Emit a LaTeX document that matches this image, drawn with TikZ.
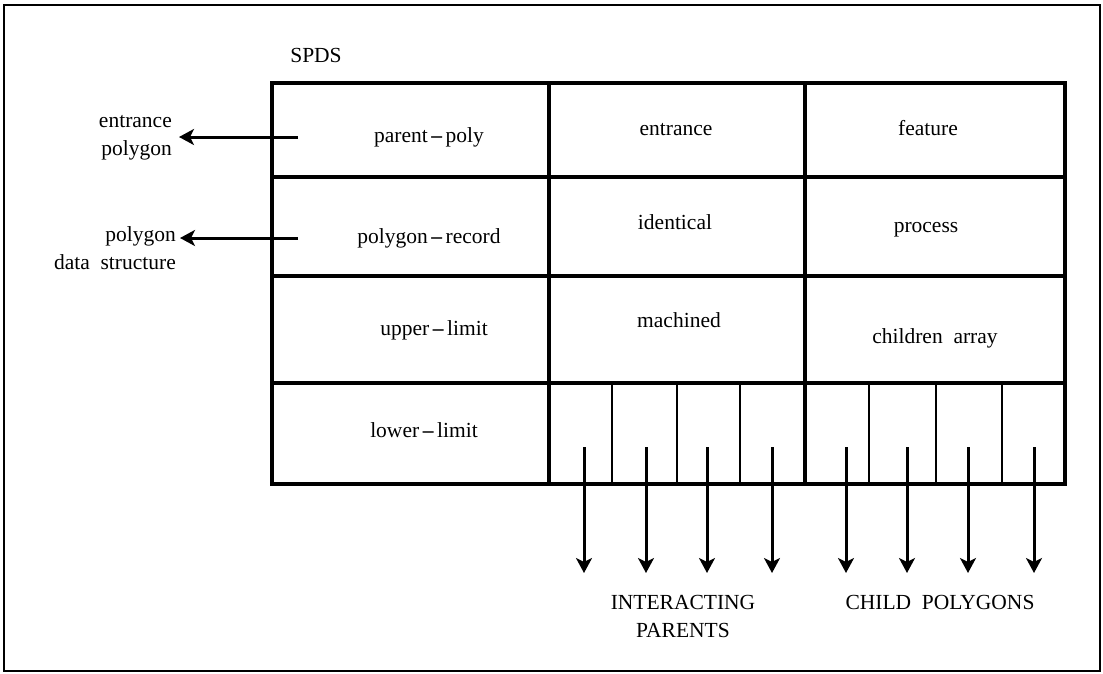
\documentclass[tikz,border=0pt]{standalone}
\usepackage{fontspec}
\setmainfont{Liberation Serif}
\usetikzlibrary{arrows.meta}
\newcommand{\hdash}{\,{\bfseries –}\,}
\begin{document}
\begin{tikzpicture}[x=1pt,y=-1pt,
  tbl/.style={line width=3.2pt},
  subline/.style={line width=2.2pt},
  lbl/.style={font=\fontsize{21.5}{28}\selectfont, inner sep=0pt},
  ptr/.style={line width=3pt, -{Stealth[length=15pt,width=16pt,inset=4pt]}},
]
\useasboundingbox (0,0) rectangle (1103,673);
% outer frame
\draw[line width=2pt] (4,5) rectangle (1100,671);
% table
\draw[tbl] (272,83) rectangle (1065,484);
\draw[tbl] (272,177) -- (1065,177);
\draw[tbl] (272,276) -- (1065,276);
\draw[tbl] (272,383) -- (1065,383);
\draw[tbl] (549,83) -- (549,484);
\draw[tbl] (805,83) -- (805,484);
% sub-cells of the bottom row
\foreach \sx in {612,677,740,869,936,1002}
  \draw[subline] (\sx,383) -- (\sx,484);
% texts
\node[lbl] (spds) at (316,55) {SPDS};
\node[lbl] (pp) at (429,137) {parent\hdash poly};
\node[lbl] (pr) at (429,238) {polygon\hdash record};
\node[lbl] (ul) at (434,330) {upper\hdash limit};
\node[lbl] (ll) at (424,430) {lower\hdash limit};
\node[lbl] (en) at (676,130) {entrance};
\node[lbl] (id) at (675,222) {identical};
\node[lbl] (ma) at (679,320) {machined};
\node[lbl] (fe) at (928,128) {feature};
\node[lbl] (pc) at (926,230) {process};
\node[lbl] (ca) at (935,338) {children\ \ array};
\node[lbl, align=right, anchor=east] (entpoly) at (172,138) {entrance\\polygon};
\node[lbl, align=right, anchor=east] (pdata) at (176,248) {polygon\\data\ \ structure};
\node[lbl, align=center] (ipar) at (683,616) {INTERACTING\\PARENTS};
\node[lbl] (cpol) at (940,602) {CHILD\ \ POLYGONS};
% left pointers
\coordinate (pptail) at (298,137);
\coordinate (prtail) at (298,238);
\draw[ptr, shorten >=7pt] (pptail) -- (pptail -| entpoly.east);
\draw[ptr, shorten >=4pt] (prtail) -- (prtail -| pdata.east);
% down pointers
\foreach \i/\ax in {1/584,2/646,3/707,4/772,5/846,6/907,7/968,8/1034}{
  \coordinate (dt\i) at (\ax,447);
  \coordinate (dh\i) at (\ax,573);
  \draw[ptr] (dt\i) -- (dh\i);
}
\end{tikzpicture}
\end{document}
